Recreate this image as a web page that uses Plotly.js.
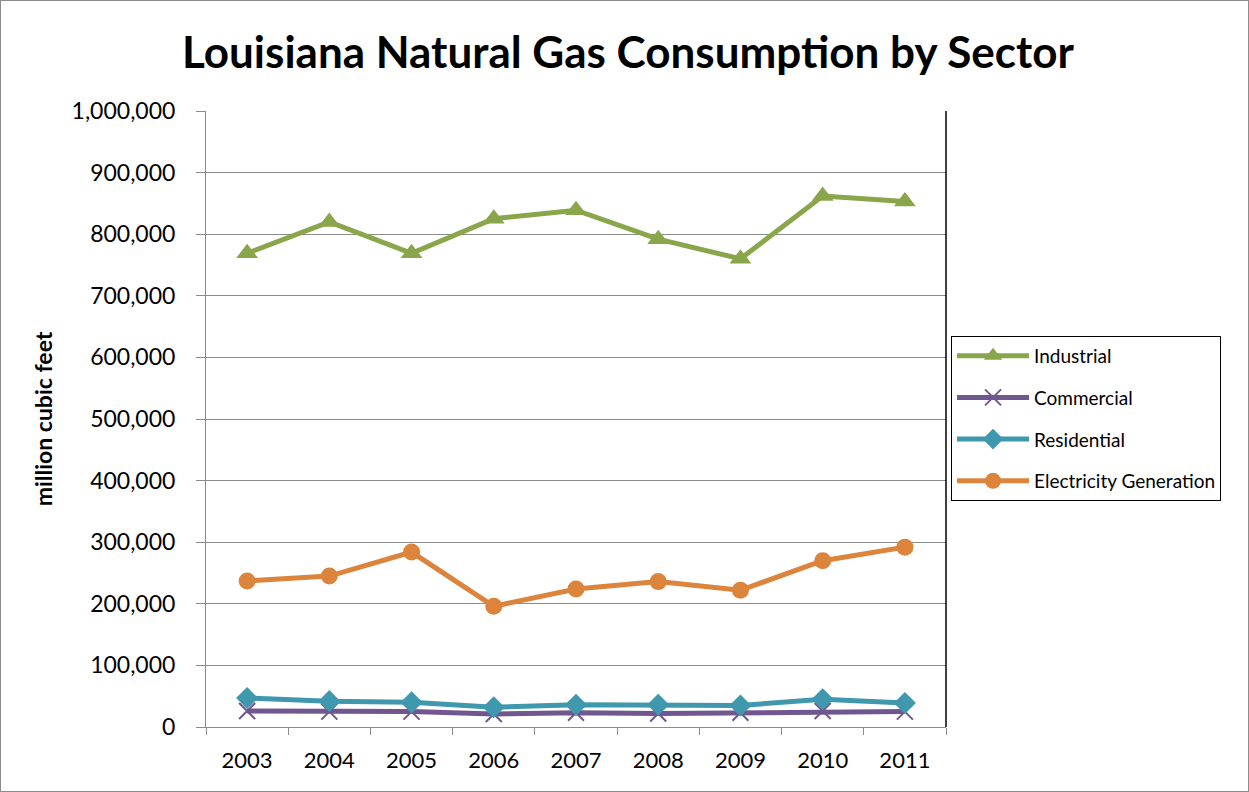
<!DOCTYPE html>
<html>
<head>
<meta charset="utf-8">
<script src="https://cdn.plot.ly/plotly-3.0.1.min.js"></script>
<style>
html,body{margin:0;padding:0;background:#fff;}
#chart{width:1249px;height:792px;box-sizing:border-box;border:1px solid #8c8c8c;}
</style>
</head>
<body>
<div id="chart"></div>
<script>
const years = ["2003","2004","2005","2006","2007","2008","2009","2010","2011"];
const industrial = [769000, 820000, 769000, 825000, 839000, 792000, 760000, 862000, 853000];
const commercial = [26000, 25000, 25000, 21000, 23000, 22000, 23000, 26000, 25000];
const residential = [47000, 42000, 40000, 32000, 36000, 36000, 35000, 45000, 39000];
const electricity = [237000, 245000, 284000, 196000, 224000, 236000, 222000, 270000, 292000];
const yTicks = [0,100000,200000,300000,400000,500000,600000,700000,800000,900000,1000000];
const yTickText = ["0","100,000","200,000","300,000","400,000","500,000","600,000","700,000","800,000","900,000","1,000,000"];

const font = "Lato, 'Open Sans', 'DejaVu Sans', sans-serif";
function tr(name, y, color, symbol, size, grp){
  return {x: years, y: y, name: name, type: 'scatter', mode: 'lines+markers',
    legendgroup: grp,
    line: {color: color, width: 5},
    marker: {symbol: symbol, size: size, color: color, line: {color: color, width: symbol==='x-thin'?2:0}}};
}
const data = [
  tr('Industrial', industrial, '#8AA64A', 'triangle-up', 19, 'a'),
  tr('Commercial', commercial, '#70578F', 'x-thin', 16, 'b'),
  tr('Residential', residential, '#3F98AE', 'diamond', 17, 'c'),
  tr('Electricity Generation', electricity, '#DC843C', 'circle', 17, 'd')
];
const layout = {
  width: 1249, height: 792,
  margin: {l: 205, r: 304, t: 110, b: 66},
  paper_bgcolor: 'rgba(0,0,0,0)', plot_bgcolor: '#fff',
  font: {family: font, color: '#000', size: 22},
  title: {text: '<b>Louisiana Natural Gas Consumption by Sector</b>', font: {size: 44, family: font, color: '#000'},
    x: 0.502, xref: 'container', xanchor: 'center', y: 0.935, yanchor: 'middle'},
  xaxis: {type: 'category', range: [-0.5, 8.5], showgrid: false, showline: true, linecolor: '#8c8c8c', linewidth: 1,
    ticks: 'outside', tickson: 'boundaries', ticklen: 7, tickcolor: '#8c8c8c', tickfont: {size: 22}, zeroline: false,
    ticklabelstandoff: 14},
  yaxis: {range: [0, 1000000], tickvals: yTicks, ticktext: yTickText, showgrid: true, gridcolor: '#8c8c8c', gridwidth: 1,
    showline: true, linecolor: '#8c8c8c', ticks: 'outside', ticklen: 9, tickcolor: '#8c8c8c', tickfont: {size: 23},
    zeroline: false, ticklabelstandoff: 16,
    title: {text: '<b>million cubic feet</b>', font: {size: 23}, standoff: 12}},
  shapes: [
    {type: 'line', xref: 'paper', yref: 'paper', x0: 1, x1: 1, y0: 0, y1: 1, line: {color: '#000', width: 1.5}}
  ],
  showlegend: true,
  legend: {x: 1.0068, xanchor: 'left', y: 0.635, yanchor: 'top', bordercolor: '#000', borderwidth: 1,
    bgcolor: '#fff', font: {size: 19}, traceorder: 'grouped', tracegroupgap: 14, itemwidth: 72}
};
Plotly.newPlot('chart', data, layout, {displayModeBar: false, staticPlot: true});
</script>
</body>
</html>
